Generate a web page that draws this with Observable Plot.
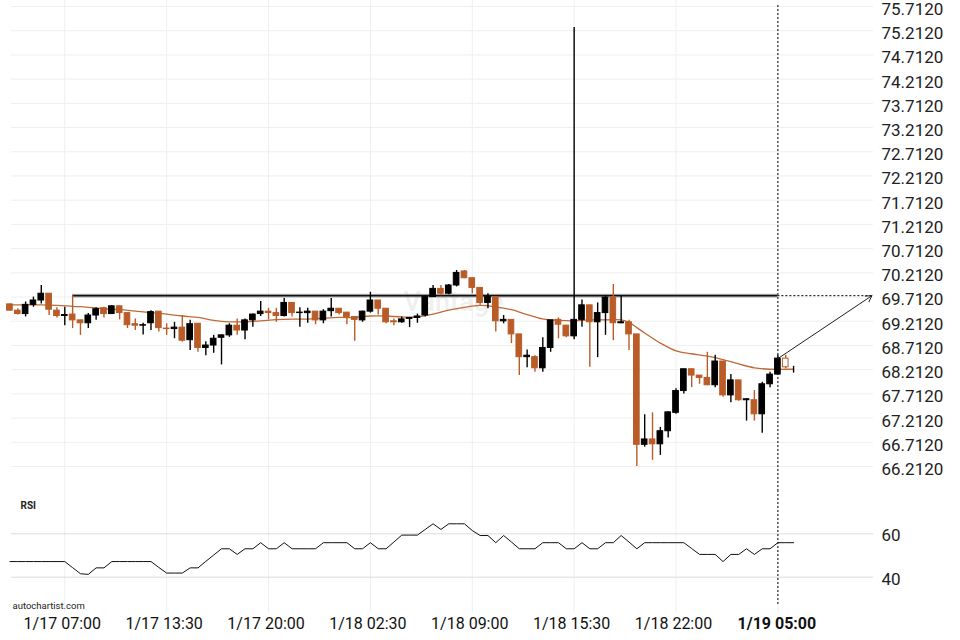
<!DOCTYPE html>
<html><head><meta charset="utf-8">
<script src="https://cdn.jsdelivr.net/npm/d3@7"></script>
<script src="https://cdn.jsdelivr.net/npm/@observablehq/plot@0.6"></script>
<style>
html,body{margin:0;padding:0;background:#fff;}
#chart{position:relative;width:960px;height:640px;overflow:hidden;font-family:Roboto,sans-serif;background:#fff;}
#chart svg{position:absolute;left:0;}
</style></head><body><div id="chart"></div>
<script>
// candle index of the first entry (0 = 1/17 07:00, 30-minute candles)
const candleStart = -7;
const open = [69.56,69.43,69.36,69.55,69.64,69.78,69.43,
 69.32,69.35,69.23,69.17,69.33,69.48,69.36,69.52,69.38,69.15,
 69.12,69.17,69.41,69.06,69.05,69.08,68.82,69.16,68.66,68.71,
 68.87,68.92,69.12,69.02,69.23,69.36,69.41,69.38,69.32,69.59,
 69.38,69.38,69.41,69.23,69.42,69.47,69.39,69.30,69.23,69.41,
 69.64,69.47,69.21,69.19,69.26,69.28,69.33,69.71,69.88,69.78,
 69.95,70.24,70.10,69.90,69.59,69.71,69.21,69.24,68.94,68.47,
 68.47,68.24,68.66,69.24,69.12,68.90,69.24,69.54,69.19,69.38,
 69.70,69.17,69.19,68.94,66.66,66.77,66.67,66.94,67.32,67.77,
 68.22,68.09,68.04,67.89,68.38,67.68,67.99,67.58,67.58,67.29,
 67.91,68.11,68.44,68.28];
const high = [69.57,69.47,69.61,69.71,69.95,69.78,69.49,
 69.50,69.74,69.23,69.37,69.49,69.50,69.53,69.52,69.38,69.26,
 69.17,69.43,69.41,69.16,69.19,69.33,69.23,69.16,68.79,68.92,
 68.93,69.16,69.26,69.26,69.36,69.62,69.48,69.48,69.68,69.59,
 69.49,69.48,69.41,69.45,69.68,69.47,69.39,69.30,69.42,69.81,
 69.64,69.47,69.26,69.30,69.29,69.36,69.74,69.95,69.95,69.97,
 70.26,70.26,70.10,69.90,69.78,69.71,69.33,69.24,68.94,68.62,
 68.50,68.87,69.23,69.28,69.13,75.28,69.65,69.54,69.59,69.74,
 69.97,69.74,69.23,68.94,67.28,67.32,67.02,67.34,67.82,68.22,
 68.22,68.09,68.57,68.51,68.38,68.11,67.99,67.61,67.78,67.95,
 68.16,68.51,68.51,68.28];
const low = [69.43,69.34,69.30,69.50,69.57,69.33,69.28,
 69.12,69.06,68.92,69.06,69.23,69.28,69.36,69.24,69.06,69.02,
 68.93,69.02,68.99,68.92,68.85,68.78,68.61,68.57,68.50,68.55,
 68.31,68.88,68.92,68.83,69.09,69.31,69.24,69.19,69.30,69.30,
 69.09,69.17,69.14,69.16,69.30,69.34,69.14,68.80,69.19,69.38,
 69.34,69.16,69.12,69.17,69.08,69.17,69.30,69.70,69.74,69.76,
 69.92,70.09,69.78,69.54,69.47,68.99,69.16,68.75,68.09,68.25,
 68.16,68.16,68.57,68.85,68.87,68.83,69.09,68.26,68.46,68.92,
 68.81,69.16,68.61,66.21,66.61,66.34,66.44,66.80,67.29,67.71,
 67.84,67.91,67.88,67.84,67.64,67.53,67.56,67.15,67.15,66.90,
 67.84,68.11,68.23,68.14];
const close = [69.43,69.36,69.55,69.64,69.78,69.45,69.32,
 69.34,69.23,69.17,69.33,69.46,69.36,69.52,69.38,69.13,69.12,
 69.13,69.40,69.07,69.05,69.08,68.81,69.15,68.66,68.71,68.85,
 68.92,69.12,69.02,69.23,69.35,69.41,69.38,69.32,69.59,69.38,
 69.39,69.41,69.23,69.41,69.47,69.38,69.30,69.24,69.41,69.64,
 69.47,69.19,69.19,69.25,69.28,69.31,69.71,69.88,69.78,69.95,
 70.21,70.10,69.90,69.59,69.71,69.21,69.24,68.94,68.47,68.50,
 68.24,68.66,69.23,69.14,68.90,69.24,69.54,69.19,69.38,69.70,
 69.17,69.19,68.94,66.66,66.77,66.67,66.94,67.33,67.77,68.22,
 68.09,68.04,67.89,68.38,67.68,67.99,67.58,67.60,67.29,67.91,
 68.11,68.44,68.26,68.28];
const rsiValues = [47.2,47.2,47.2,47.2,47.2,47.2,47.2,
 47.2,44.4,41.6,41.3,44.3,44.3,47.2,47.2,47.2,47.2,
 47.2,47.2,44.5,41.9,41.9,41.9,44.3,44.3,47.3,50.2,
 53.1,53.1,50.5,53.1,53.1,55.9,53.1,53.1,55.9,53.1,
 53.1,53.1,53.1,55.9,55.9,55.9,55.9,53.1,53.1,55.9,
 53.1,53.1,56.2,59.4,59.4,59.4,62.0,64.6,62.0,64.6,
 64.6,64.6,61.5,59.2,59.2,55.9,59.2,56.2,53.1,53.1,
 53.1,55.9,55.9,55.9,53.1,53.1,55.9,53.1,53.1,55.9,
 55.9,59.2,56.2,53.1,55.9,55.9,55.9,55.9,55.9,55.9,
 53.2,50.5,50.5,50.5,47.2,50.5,50.5,53.1,50.5,53.1,
 53.1,55.9,55.9,55.9];
const maIndex = [-7,-5,-3,-1,1,3,5,7,9,11,13,15,17,19,21,23,25,27,29,31,33,35,37,39,41,43,45,47,49,51,53,55,57,59,61,63,65,67,69,71,72,73,74,76,78,80,82,84,86,88,90,92,93];
const maValue = [69.55,69.55,69.55,69.54,69.52,69.50,69.47,69.45,69.42,69.39,69.36,69.32,69.29,69.23,69.20,69.20,69.22,69.245,69.255,69.255,69.275,69.29,69.29,69.32,69.32,69.30,69.30,69.36,69.44,69.50,69.54,69.51,69.45,69.35,69.26,69.23,69.22,69.24,69.24,69.24,69.19,69.08,68.97,68.76,68.60,68.54,68.49,68.42,68.33,68.25,68.22,68.22,68.22];
const priceTicks = [75.712,75.212,74.712,74.212,73.712,73.212,72.712,72.212,71.712,71.212,70.712,70.212,69.712,69.212,68.712,68.212,67.712,67.212,66.712,66.212];
const timeTickIndex = [0,13,26,39,52,65,78];
const timeTickLabels = ["1/17 07:00","1/17 13:30","1/17 20:00","1/18 02:30","1/18 09:00","1/18 15:30","1/18 22:00"];
const nowIndex = 91;
const nowLabel = "1/19 05:00";
const liveIndex = 92;
const resistance = 69.74;
const resistanceStart = 1;
const rsiLevels = [60, 40];

const candles = open.map((o, i) => ({k: i + candleStart, o, h: high[i], l: low[i], c: close[i]}));
const rsi = rsiValues.map((v, i) => ({k: i + candleStart, v}));
const ma = maIndex.map((k, i) => ({k, v: maValue[i]}));

const orange = "#b95c28";
const col = d => d.c >= d.o ? "#000000" : orange;
const xDomain = [-6.8, 103.2];
const gridX = timeTickIndex.concat([nowIndex]);
const lastClose = close[nowIndex - candleStart];

const price = Plot.plot({
  width: 960, height: 490,
  marginTop: 0, marginBottom: 0, marginLeft: 11, marginRight: 87,
  style: {background: "transparent", fontFamily: "Roboto, sans-serif", overflow: "visible"},
  x: {domain: xDomain, axis: null},
  y: {domain: [65.716, 75.836], axis: null},
  marks: [
    Plot.ruleY(priceTicks, {stroke: "#efefef"}),
    Plot.ruleX(gridX, {stroke: "#efefef"}),
    Plot.text(["Vantage"], {frameAnchor: "top-left", dx: 392, dy: 302, lineAnchor: "middle", fontSize: 27, fontWeight: "bold", fill: "#000", fillOpacity: 0.06}),
    Plot.axisY(priceTicks, {anchor: "right", label: null, tickSize: 0, tickPadding: 8, textAnchor: "start", tickFormat: d => d.toFixed(4), fontSize: 17, dy: 3, fill: "#222"}),
    Plot.line(ma, {x: "k", y: "v", stroke: "#c06a38", strokeWidth: 1.3, curve: "catmull-rom"}),
    Plot.ruleY([resistance], {x1: resistanceStart, x2: nowIndex, stroke: "#888", strokeWidth: 4, strokeOpacity: 0.45}),
    Plot.ruleY([resistance], {x1: resistanceStart, x2: nowIndex, stroke: "#111", strokeWidth: 1.6}),
    Plot.ruleY([resistance], {x1: nowIndex, x2: xDomain[1], stroke: "#000", strokeDasharray: "2,2"}),
    Plot.ruleX([nowIndex], {stroke: "#000", strokeDasharray: "2,2", insetTop: 5}),
    Plot.ruleX(candles, {x: "k", y1: "l", y2: "h", stroke: col, strokeWidth: 1.4}),
    Plot.rect(candles, {x1: d => d.k - 0.36, x2: d => d.k + 0.36, y1: "o", y2: "c",
      fill: d => d.k === liveIndex ? "#ffffff" : col(d), stroke: col, strokeWidth: 1}),
    Plot.arrow([{x1: nowIndex, y1: lastClose, x2: xDomain[1] - 0.2, y2: resistance}],
      {x1: "x1", y1: "y1", x2: "x2", y2: "y2", stroke: "#222", strokeWidth: 1, headLength: 10, bend: 0})
  ]
});

const rsiPlot = Plot.plot({
  width: 960, height: 150,
  marginTop: 0, marginBottom: 28, marginLeft: 11, marginRight: 87,
  style: {background: "transparent", fontFamily: "Roboto, sans-serif", overflow: "visible"},
  x: {domain: xDomain, axis: null},
  y: {domain: [23.73, 79.95], axis: null},
  marks: [
    Plot.ruleX(gridX, {stroke: "#efefef"}),
    Plot.ruleY(rsiLevels, {stroke: "#dcdcdc"}),
    Plot.axisY(rsiLevels, {anchor: "right", label: null, tickSize: 0, tickPadding: 8, textAnchor: "start", fontSize: 17, dy: 2, fill: "#222"}),
    Plot.line(rsi, {x: "k", y: "v", stroke: "#111", strokeWidth: 1}),
    Plot.ruleX([nowIndex], {stroke: "#000", strokeDasharray: "2,2", insetBottom: 7}),
    Plot.text(timeTickIndex, {x: d => d, text: (d, i) => timeTickLabels[i], frameAnchor: "bottom", lineAnchor: "middle", dy: 11.5, dx: -2.5, fontSize: 16, fill: "#111"}),
    Plot.text([nowIndex], {x: d => d, text: () => nowLabel, frameAnchor: "bottom", lineAnchor: "middle", dy: 11.5, dx: -1, fontSize: 16, fontWeight: "bold", fill: "#111"}),
    Plot.text(["RSI"], {frameAnchor: "top-left", dx: 9, dy: 11.7, fontSize: 10, fontWeight: "bold", fill: "#222"}),
    Plot.text(["autochartist.com"], {frameAnchor: "top-left", dx: 1, dy: 111.5, fontSize: 9.5, fill: "#222"})
  ]
});

const chart = document.getElementById("chart");
price.style.top = "0px";
rsiPlot.style.top = "490px";
chart.appendChild(price);
chart.appendChild(rsiPlot);
</script>
</body></html>
